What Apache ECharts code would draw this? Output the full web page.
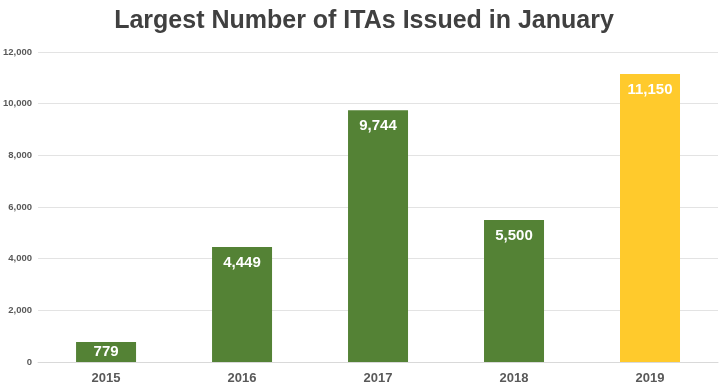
<!DOCTYPE html>
<html><head><meta charset="utf-8">
<script src="https://cdn.jsdelivr.net/npm/echarts@6/dist/echarts.min.js"></script>
<style>html,body{margin:0;padding:0;background:#fff}#c{width:728px;height:390px}</style>
</head><body><div id="c"></div>
<script>
const categories = ['2015','2016','2017','2018','2019'];
const values = [779, 4449, 9744, 5500, 11150];
const barColors = ['#548235','#548235','#548235','#548235','#FFCA2C'];
const titleText = 'Largest Number of ITAs Issued in January';

const chart = echarts.init(document.getElementById('c'));
chart.setOption({
  animation: false,
  title: {
    text: titleText, left: 'center', top: 4,
    textStyle: {fontFamily: '"Liberation Sans", Arial', fontWeight: 'bold', fontSize: 25, color: '#404040'}
  },
  grid: {left: 38, right: 10, top: 52, bottom: 28},
  xAxis: {
    type: 'category', data: categories,
    axisLine: {lineStyle: {color: '#d9d9d9'}}, axisTick: {show: false},
    axisLabel: {color: '#595959', fontWeight: 'bold', fontSize: 13, fontFamily: 'Liberation Sans, Arial', margin: 10}
  },
  yAxis: {
    type: 'value', min: 0, max: 12000, interval: 2000,
    axisLine: {show: false}, axisTick: {show: false},
    splitLine: {lineStyle: {color: '#e3e3e3'}},
    axisLabel: {color: '#595959', fontSize: 9.5, fontWeight: 'bold', fontFamily: 'Liberation Sans, Arial', margin: 6,
      formatter: v => v.toLocaleString('en-US')}
  },
  series: [{
    type: 'bar', barWidth: 60,
    data: values.map((v, i) => ({value: v, itemStyle: {color: barColors[i]},
      label: i === 0 ? {position: 'inside'} : undefined})),
    label: {show: true, position: 'insideTop', distance: 8, color: '#fff', fontWeight: 'bold', fontSize: 15,
      fontFamily: 'Liberation Sans, Arial', formatter: p => p.value.toLocaleString('en-US')}
  }]
});
</script></body></html>
